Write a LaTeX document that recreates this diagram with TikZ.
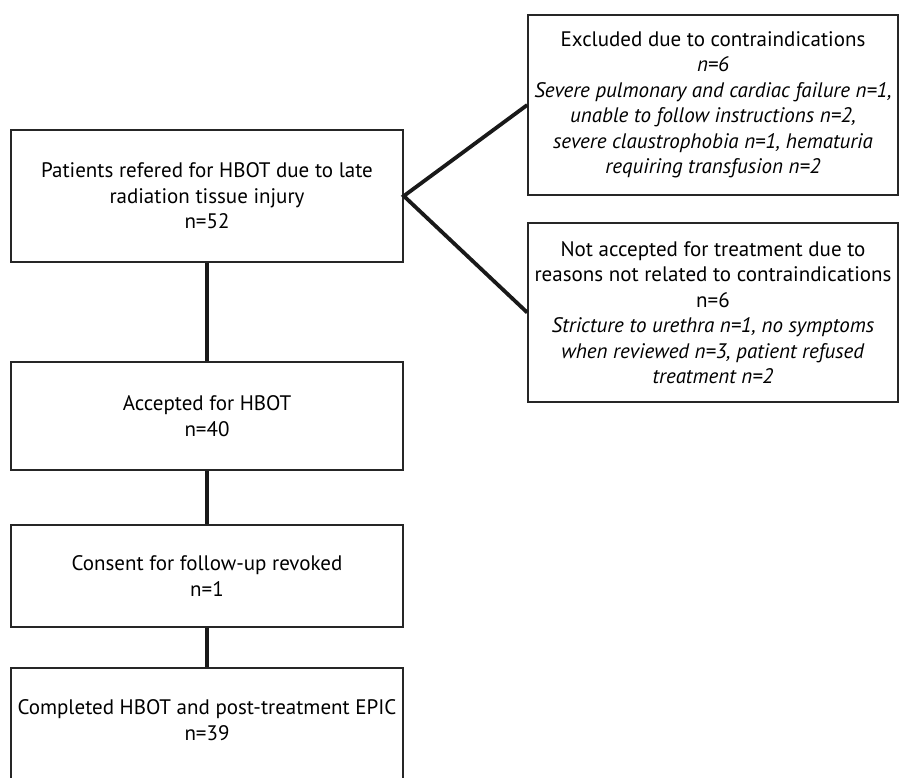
\documentclass[tikz,border=0pt]{standalone}
\usepackage{fontspec}
\setmainfont{PT Sans}
\usepackage{tikz}
\usetikzlibrary{calc}
\tikzset{
	flowbox/.style={draw=black!85, line width=1.6pt, inner sep=0pt, align=center,
		font=\fontsize{21}{25.5}\selectfont},
	flowline/.style={line width=3.8pt, color=black!90}
}

\begin{document}
\begin{tikzpicture}[x=1pt, y=-1pt]
			%%%%% START %%%%%
			
			\useasboundingbox (0, 0) rectangle (899, 777);
			\clip (0, 0) rectangle (899, 777);
			
			\node[flowbox, minimum width=392, minimum height=132] (refer) at (207, 196)
				{Patients refered for HBOT due to late\\radiation tissue injury\\n=52};
			\node[flowbox, minimum width=392, minimum height=108] (accept) at (207, 416)
				{Accepted for HBOT\\n=40};
			\node[flowbox, minimum width=392, minimum height=102] (consent) at (207, 576)
				{Consent for follow-up revoked\\n=1};
			\node[flowbox, minimum width=392, minimum height=124, text depth=20pt] (done) at (207, 730)
				{Completed HBOT and post-treatment EPIC\\n=39};
			
			\node[flowbox, minimum width=370, minimum height=180] (exclude) at (713, 105)
				{Excluded due to contraindications\\\textit{n=6}\\
				\textit{Severe pulmonary and cardiac failure n=1,}\\
				\textit{unable to follow instructions n=2,}\\
				\textit{severe claustrophobia n=1, hematuria}\\
				\textit{requiring transfusion n=2}};
			\node[flowbox, minimum width=370, minimum height=179] (notaccept) at (713, 312.5)
				{Not accepted for treatment due to\\reasons not related to contraindications\\n=6\\
				\textit{Stricture to urethra n=1, no symptoms}\\
				\textit{when reviewed n=3, patient refused}\\
				\textit{treatment n=2}};
			
			\draw[flowline] (refer.south) -- (accept.north);
			\draw[flowline] (accept.south) -- (consent.north);
			\draw[flowline] (consent.south) -- (done.north);
			
			\draw[flowline, line join=miter] (exclude.west) -- (refer.east) -- (notaccept.west);
			
			%%%%% END %%%%%
		\end{tikzpicture}
\end{document}
